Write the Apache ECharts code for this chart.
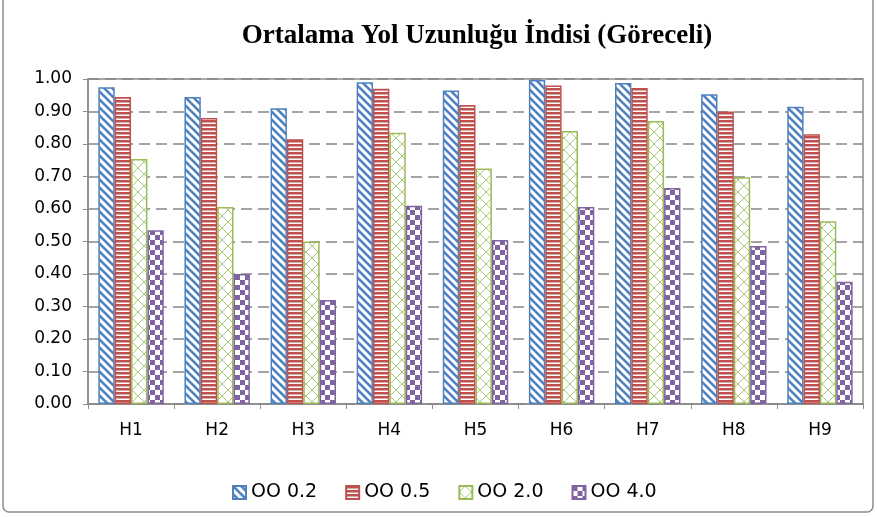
<!DOCTYPE html>
<html>
<head>
<meta charset="utf-8">
<script src="https://cdn.jsdelivr.net/npm/echarts@6/dist/echarts.min.js"></script>
<style>
  html, body { margin: 0; padding: 0; background: #fff; }
  #main { width: 877px; height: 517px; }
</style>
</head>
<body>
<div id="main"></div>
<script>
var categories = ['H1', 'H2', 'H3', 'H4', 'H5', 'H6', 'H7', 'H8', 'H9'];
var seriesNames = ['OO 0.2', 'OO 0.5', 'OO 2.0', 'OO 4.0'];
var oo02 = [0.975, 0.945, 0.910, 0.990, 0.965, 0.997, 0.988, 0.953, 0.915];
var oo05 = [0.945, 0.880, 0.815, 0.970, 0.920, 0.980, 0.972, 0.900, 0.830];
var oo20 = [0.754, 0.606, 0.500, 0.835, 0.725, 0.840, 0.871, 0.698, 0.562];
var oo40 = [0.535, 0.400, 0.320, 0.610, 0.505, 0.606, 0.665, 0.486, 0.376];
var yTicks = ['0.00', '0.10', '0.20', '0.30', '0.40', '0.50', '0.60', '0.70', '0.80', '0.90', '1.00'];

// hazir desenler (Excel dolgu desenlerine benzer)
function tile(w, h, draw) {
    var c = document.createElement('canvas');
    c.width = w; c.height = h;
    var ctx = c.getContext('2d');
    ctx.fillStyle = '#fff';
    ctx.fillRect(0, 0, w, h);
    draw(ctx);
    return { image: c, repeat: 'repeat' };
}

var blueFill = tile(8, 8, function (ctx) {
    ctx.strokeStyle = '#4F81BD';
    ctx.lineWidth = 2.6;
    for (var k = -8; k <= 8; k += 8) {
        ctx.beginPath();
        ctx.moveTo(k - 2, -2);
        ctx.lineTo(k + 10, 10);
        ctx.stroke();
    }
});
var redFill = tile(4, 4, function (ctx) {
    ctx.fillStyle = '#C0504D';
    ctx.fillRect(0, 0, 4, 2.5);
});
var greenFill = tile(12, 12, function (ctx) {
    ctx.strokeStyle = '#A9C775';
    ctx.lineWidth = 1;
    ctx.beginPath();
    ctx.moveTo(0, 6); ctx.lineTo(6, 0); ctx.lineTo(12, 6);
    ctx.moveTo(0, 6); ctx.lineTo(6, 12); ctx.lineTo(12, 6);
    ctx.stroke();
});
var purpleFill = tile(10, 10, function (ctx) {
    ctx.fillStyle = '#8064A2';
    ctx.fillRect(0, 0, 5, 5);
    ctx.fillRect(5, 5, 5, 5);
});

var colors = ['#4F81BD', '#C0504D', '#9BBB59', '#8064A2'];
var fills = [blueFill, redFill, greenFill, purpleFill];
var values = [oo02, oo05, oo20, oo40];

var series = seriesNames.map(function (name, i) {
    return {
        name: name,
        type: 'bar',
        barGap: '0%',
        barCategoryGap: '24%',
        data: values[i],
        itemStyle: {
            color: fills[i],
            borderColor: colors[i],
            borderWidth: 1.5
        }
    };
});

var myChart = echarts.init(document.getElementById('main'));
myChart.setOption({
    animation: false,
    textStyle: { fontFamily: 'DejaVu Sans' },
    title: {
        text: 'Ortalama Yol Uzunluğu İndisi (Göreceli)',
        left: 472,
        top: 18,
        textAlign: 'center',
        textStyle: {
            fontFamily: 'Liberation Serif',
            fontSize: 27,
            fontWeight: 'bold',
            color: '#000'
        }
    },
    legend: {
        left: 227,
        top: 478,
        itemWidth: 13,
        itemHeight: 13,
        itemGap: 28,
        icon: 'rect',
        textStyle: { fontSize: 19, color: '#000', fontFamily: 'DejaVu Sans' },
        data: seriesNames
    },
    graphic: [{
        type: 'rect',
        shape: { x: 3, y: -10, width: 870, height: 522, r: 6 },
        style: { fill: 'none', stroke: '#8c8c8c', lineWidth: 1.5 },
        silent: true
    }],
    grid: {
        left: 88,
        right: 14,
        top: 79,
        bottom: 113,
        show: true,
        borderColor: '#8c8c8c',
        borderWidth: 1.5
    },
    xAxis: {
        type: 'category',
        data: categories,
        axisLine: { lineStyle: { color: '#8c8c8c', width: 1.5 } },
        axisTick: { show: true, length: 5, lineStyle: { color: '#8c8c8c' } },
        axisLabel: { fontSize: 17, color: '#000', margin: 18 }
    },
    yAxis: {
        type: 'value',
        min: 0,
        max: 1,
        interval: 0.1,
        axisLine: { show: true, lineStyle: { color: '#8c8c8c', width: 1.5 } },
        axisTick: { show: true, length: 5, lineStyle: { color: '#8c8c8c' } },
        axisLabel: {
            fontSize: 17,
            color: '#000',
            margin: 16,
            formatter: function (v) { return yTicks[Math.round(v * 10)]; }
        },
        splitLine: {
            lineStyle: { color: '#868686', width: 1.5, type: [11, 6] }
        }
    },
    series: series
});
</script>
</body>
</html>
